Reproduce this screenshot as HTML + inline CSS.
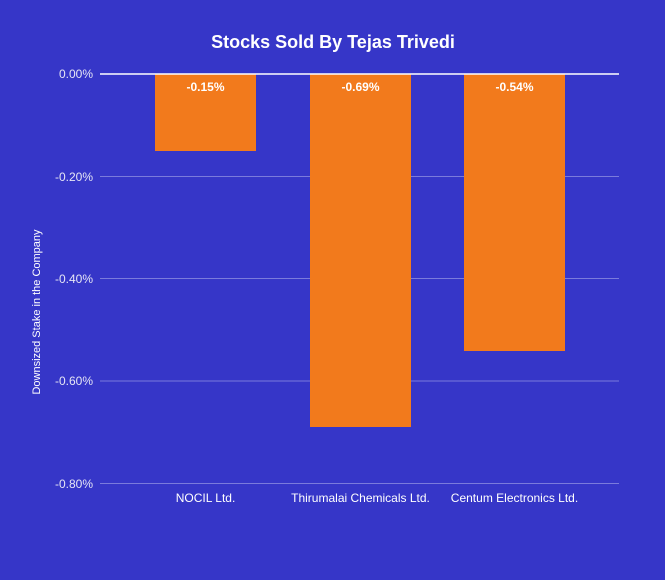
<!DOCTYPE html>
<html><head><style>
body{margin:0;background:#3636c8;}
svg{display:block;font-family:"Liberation Sans",sans-serif;}
</style></head><body>
<svg width="665" height="580" viewBox="0 0 665 580">
<rect width="665" height="580" fill="#3636c8"/>
<text x="333" y="48" text-anchor="middle" fill="#fff" font-size="18" font-weight="bold">Stocks Sold By Tejas Trivedi</text>
<g stroke="#7b7bdc" stroke-width="1">
<line x1="100" x2="619" y1="176.5" y2="176.5"/>
<line x1="100" x2="619" y1="278.5" y2="278.5"/>
<line x1="100" x2="619" y1="381" y2="381"/>
<line x1="100" x2="619" y1="483.5" y2="483.5"/>
</g>
<g fill="#e6e6f5" font-size="12" text-anchor="end">
<text x="93" y="78">0.00%</text>
<text x="93" y="181">-0.20%</text>
<text x="93" y="283">-0.40%</text>
<text x="93" y="385">-0.60%</text>
<text x="93" y="488">-0.80%</text>
</g>
<g fill="#f27a1c">
<rect x="155" y="74" width="101" height="77"/>
<rect x="310" y="74" width="101" height="353"/>
<rect x="464" y="74" width="101" height="277"/>
</g>
<line x1="100" x2="619" y1="74" y2="74" stroke="#fff" stroke-width="1.5"/>
<g fill="#fff" font-size="12" font-weight="bold" text-anchor="middle">
<text x="205.5" y="91">-0.15%</text>
<text x="360.5" y="91">-0.69%</text>
<text x="514.5" y="91">-0.54%</text>
</g>
<g fill="#fff" font-size="12" text-anchor="middle">
<text x="205.5" y="502">NOCIL Ltd.</text>
<text x="360.5" y="502">Thirumalai Chemicals Ltd.</text>
<text x="514.5" y="502">Centum Electronics Ltd.</text>
</g>
<text transform="translate(40,312) rotate(-90)" fill="#fff" font-size="11" text-anchor="middle">Downsized Stake in the Company</text>
</svg>
</body></html>
